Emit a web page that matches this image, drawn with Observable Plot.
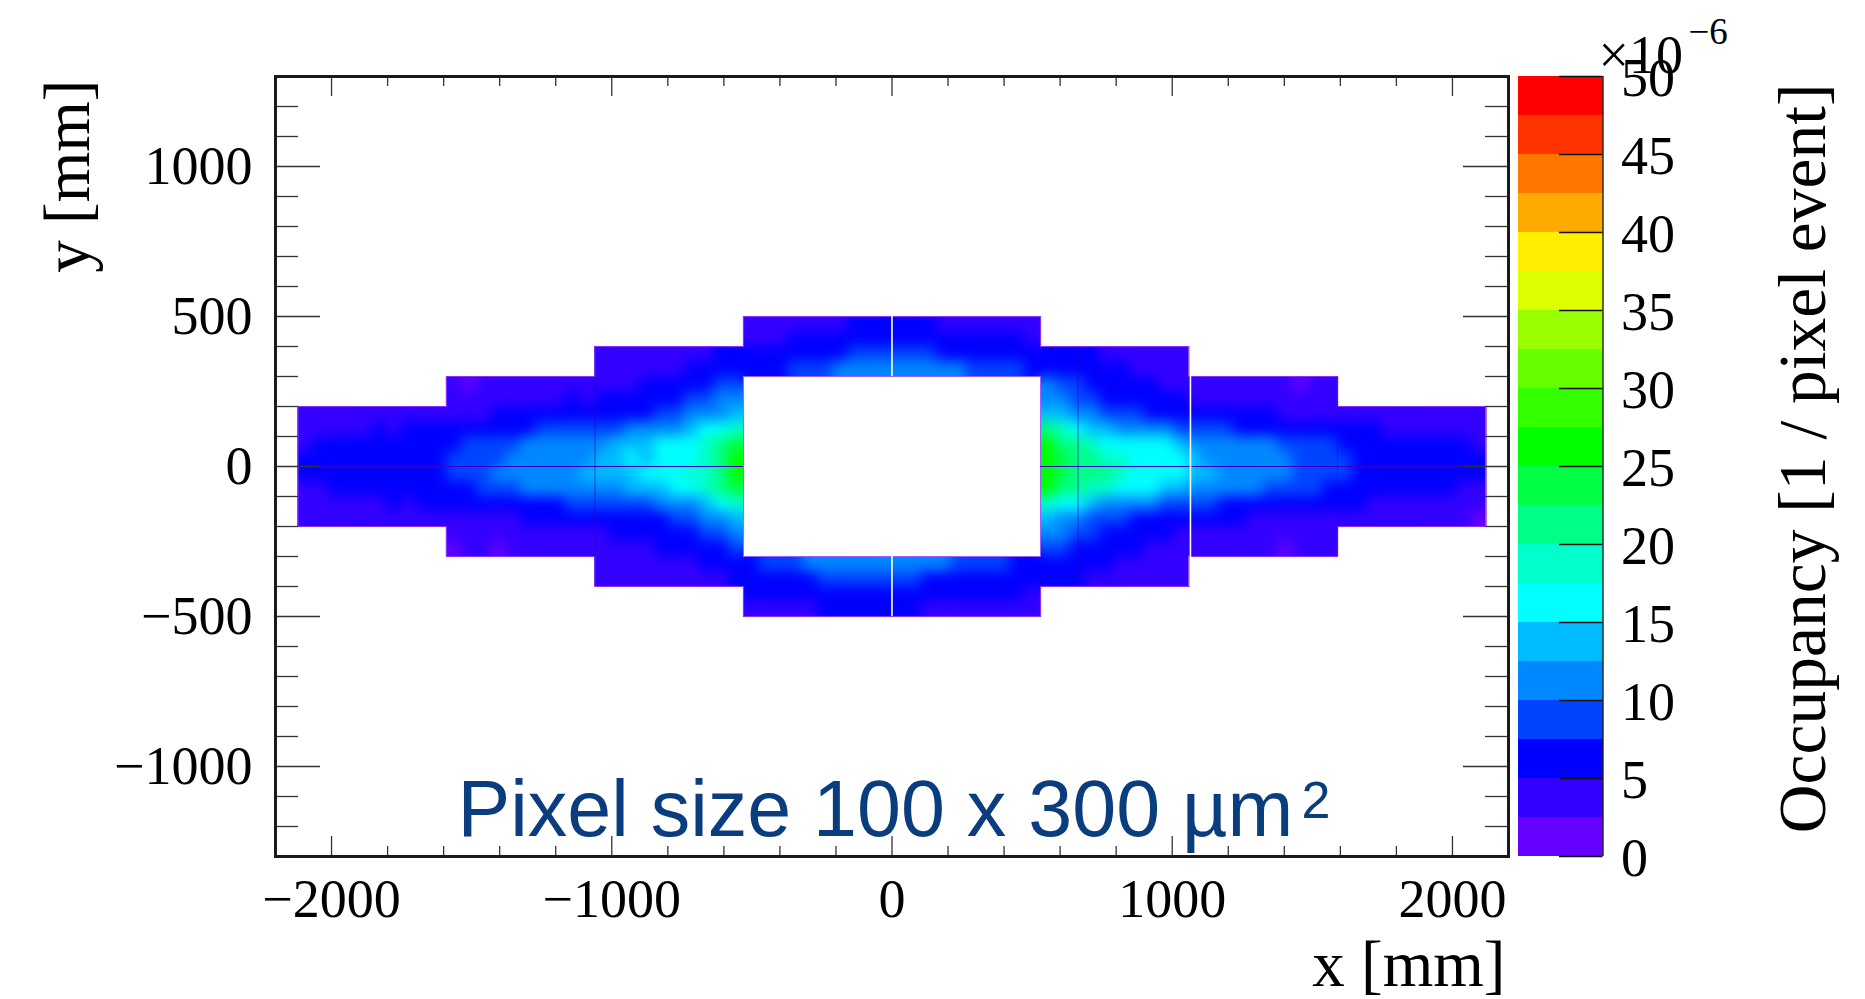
<!DOCTYPE html>
<html>
<head>
<meta charset="utf-8">
<script src="https://cdn.jsdelivr.net/npm/d3@7"></script>
<script src="https://cdn.jsdelivr.net/npm/@observablehq/plot@0.6"></script>
<style>
html,body{margin:0;padding:0;background:#fff;overflow:hidden}
#wrap{position:relative;width:1865px;height:999px}
#wrap svg{position:absolute;left:0;top:0}
</style>
</head>
<body>
<div id="wrap"></div>
<script>
// Colour bands (bottom to top of the colour bar), 2.5e-6 wide each
const bandColors = ["#6600ff","#3300ff","#0000ff","#0044ff","#0088ff","#00bbff","#00ffff","#00ffcc","#00ff88","#00ff44",
                    "#00ff00","#33ff00","#66ff00","#99ff00","#ddff00","#ffee00","#ffaa00","#ff7700","#ff3300","#ff0000"];
const bandEdges = [2.5,5,7.5,10,12.5,15,17.5,20,22.5,25,27.5,30,32.5,35,37.5,40,42.5,45,47.5];
const barLabels = [0,5,10,15,20,25,30,35,40,45,50];

// Axis ticks
const xMajor = [-2000,-1000,0,1000,2000];
const xMinor = [-1800,-1600,-1400,-1200,-800,-600,-400,-200,200,400,600,800,1200,1400,1600,1800];
const yMajor = [-1000,-500,0,500,1000];
const yMinor = [-1200,-1100,-900,-800,-700,-600,-400,-300,-200,-100,100,200,300,400,600,700,800,900,1100,1200];

// Occupancy (×10⁻⁶): one list per 50 mm row, 53 mm columns, left to right.
const rowP450 = [3,3,4,4,4,4,4,5,5,5, 5,5,5,4,4,4,4,4,3,3];
const rowP400 = [4,4,4,5,5,5,6,6,6,7, 7,6,6,6,6,5,5,5,5,4];
const rowP350 = [3,3,3,3,4,4,4,4,5,5, 5,5,6,6,7,7,7,8,8,8, 9,8,8,7,7,7,6,6,6,5, 6,5,5,5,4,4,4,3,3,3];
const rowP300 = [3,3,4,4,4,4,5,5,6,7, 6,7,7,8,8,9,10,11,10,11, 12,11,11,10,10,9,9,8,8,7, 7,7,6,6,5,5,4,4,4,3];
const rowP250 = [3,2,3,3,3,3,3,3,4,3, 4,4,4,5,5,5,6,7,8,9, 10,9,8,7,6,5,5,5,4,4, 3,3,3,3,3,3,3,2,3,3];
const rowP200 = [3,3,3,4,3,4,4,4,5,4, 5,5,5,6,6,7,8,9,10,11, 12,11,9,8,7,6,6,5,5,5, 4,4,4,4,4,3,4,3,3,3];
const rowP150 = [3,3,3,3,4,3,4,4,4,4, 4,4,4,5,5,5,5,6,6,6, 6,6,7,7,8,8,10,11,12,14,
                 14,13,12,10,9,8,8,7,7,6, 6,5,5,5,5,5,4,4,4,4, 4,4,3,4,3,3,3,3,3,3];
const rowP100 = [3,4,4,4,4,5,4,5,5,5, 5,5,6,6,7,7,8,8,8,9, 9,9,10,10,11,12,13,15,17,19,
                 20,18,16,14,13,12,11,11,10,9, 9,8,8,7,7,7,6,6,6,6, 5,5,5,4,4,4,4,4,3,3];
const rowP50  = [4,5,5,5,5,6,6,6,6,6, 7,8,8,9,9,10,11,11,11,12, 12,13,13,14,15,15,17,19,22,24,
                 25,22,20,18,17,16,16,15,15,13, 12,12,11,11,10,10,9,9,8,8, 7,7,6,6,6,5,5,5,5,4];
const rowP0   = [5,5,6,5,6,6,7,6,7,7, 8,8,9,9,10,11,10,11,12,12, 13,14,15,14,15,16,17,18,21,25,
                 26,24,20,20,19,18,17,16,16,15, 13,12,12,11,11,10,10,9,9,8, 8,7,7,7,6,6,6,6,5,5];
const rowM50  = [5,6,5,6,6,7,6,7,7,7, 8,9,9,10,10,10,11,11,12,13, 13,14,14,15,16,16,18,19,22,25,
                 27,24,21,20,20,19,17,17,16,15, 14,13,12,12,11,11,10,9,9,8, 8,7,7,6,7,6,6,5,5,5];
const rowM100 = [4,4,5,5,5,5,6,5,6,6, 6,7,8,8,9,10,10,11,11,11, 11,12,13,14,14,15,16,18,21,24,
                 25,22,20,18,18,17,16,16,14,13, 12,12,11,10,10,9,9,8,8,7, 7,6,6,6,5,5,5,5,4,4];
const rowM150 = [3,4,4,4,4,4,5,4,5,5, 5,5,5,6,6,7,7,7,8,8, 8,8,9,9,10,11,12,14,16,18,
                 19,17,15,13,12,11,10,10,9,8, 8,8,7,7,6,6,6,5,5,5, 5,5,4,4,4,4,4,3,3,3];
const rowM200 = [3,3,3,3,3,3,4,3,4,4, 4,4,4,4,4,5,5,5,5,6, 6,6,6,7,7,8,9,10,11,13,
                 14,12,11,9,8,8,7,7,6,6, 5,5,5,5,4,4,4,4,4,3, 3,3,3,3,3,3,3,3,3,2];
const rowM250 = [3,3,3,3,4,3,4,4,4,4, 4,5,5,5,6,6,7,8,9,10, 11,10,9,8,6,6,6,5,5,4, 4,4,4,3,3,4,3,3,3,3];
const rowM300 = [2,3,3,2,3,3,3,3,3,3, 4,4,4,4,5,5,5,6,7,8, 9,8,7,6,6,5,5,4,4,4, 3,3,3,3,3,3,2,3,3,3];
const rowM350 = [3,3,3,4,4,4,4,5,5,7, 7,8,8,9,10,10,11,11,11,10, 11,10,10,10,9,9,8,8,7,7, 6,6,6,5,5,4,4,4,4,3];
const rowM400 = [3,3,3,3,3,4,4,4,4,5, 6,6,6,7,7,8,8,8,8,8, 8,8,7,7,7,7,6,6,6,6, 5,5,5,4,4,4,3,3,3,3];
const rowM450 = [5,5,5,5,6,6,6,6,7,6, 6,6,6,6,5,5,5,5,5,4];
const rowM500 = [4,4,4,4,4,5,5,5,5,5, 5,5,4,4,4,4,4,4,3,3];

// Detector outline: lower edge of each row and half-width of the row
const rowLows   = [450,400,350,300,250,200,150,100,50,0,-50,-100,-150,-200,-250,-300,-350,-400,-450,-500];
const rowWidths = [530,530,1060,1060,1590,1590,2120,2120,2120,2120,2120,2120,2120,2120,1590,1590,1060,1060,530,530];
const rowValues = [rowP450,rowP400,rowP350,rowP300,rowP250,rowP200,rowP150,rowP100,rowP50,rowP0,
                   rowM50,rowM100,rowM150,rowM200,rowM250,rowM300,rowM350,rowM400,rowM450,rowM500];
const colWidth = 53, rowHeight = 50, holeX = 530, holeY = 300;

// Outer edge of the detector and the central opening
const outlineX = [-2120,-1590,-1590,-1060,-1060,-530,-530,530,530,1060,1060,1590,1590,2120,2120,1590,1590,1060,1060,530,530,-530,-530,-1060,-1060,-1590,-1590,-2120,-2120];
const outlineY = [-200,-200,-300,-300,-400,-400,-500,-500,-400,-400,-300,-300,-200,-200,200,200,300,300,400,400,500,500,400,400,300,300,200,200,-200];
const openingX = [-530,530,530,-530,-530];
const openingY = [-300,-300,300,300,-300];

const cells = [];
rowLows.forEach((low, r) => {
  const inHole = low >= -holeY && low < holeY;
  let i = 0;
  for (let x = -rowWidths[r]; x < rowWidths[r]; x += colWidth) {
    if (inHole && x >= -holeX && x < holeX) continue;
    cells.push({x1: x, x2: x + colWidth, y1: low, y2: low + rowHeight, v: rowValues[r][i++]});
  }
});
const outerEdge = outlineX.map((x,i)=>({x, y: outlineY[i]}));
const openEdge = openingX.map((x,i)=>({x, y: openingY[i]}));
// Dead strips visible in the map
const gapsWhite = [{x:0,y1:300,y2:500},{x:0,y1:-500,y2:-300},{x:1065,y1:-400,y2:400}];
const deadRows = [{x1:-2120,x2:-530},{x1:530,x2:2120}];
const deadCols = [{x:664,y1:-400,y2:400},{x:-1060,y1:-400,y2:400},{x:1590,y1:-300,y2:300}];
const bands = bandColors.map((c,i)=>({y1:i*2.5,y2:(i+1)*2.5,v:i*2.5+1}));

const serif = "'Liberation Serif','Times New Roman',serif";
const fmt = d => String(d).replace("-", "\u2212");
const W = 1233, H = 780;
const colorScale = {type:"threshold", domain: bandEdges, range: bandColors};

const main = Plot.plot({
  width:1865, height:999, marginLeft:275, marginRight:357, marginTop:76, marginBottom:143,
  style:{background:"transparent", fontFamily:serif},
  x:{domain:[-2200,2200],axis:null}, y:{domain:[-1300,1300],axis:null}, color: colorScale,
  marks:[
    Plot.rect(cells,{x1:"x1",x2:"x2",y1:"y1",y2:"y2",fill:"v"}),
    Plot.line(outerEdge,{x:"x",y:"y",stroke:"#8a30ff",strokeWidth:1.2}),
    Plot.line(openEdge,{x:"x",y:"y",stroke:"#a060ff",strokeWidth:1}),
    Plot.ruleY(deadRows,{y:()=>0,x1:"x1",x2:"x2",stroke:"#3a00c8",strokeWidth:1.2}),
    Plot.ruleX(deadCols,{x:"x",y1:"y1",y2:"y2",stroke:"#2a00c0",strokeWidth:1,strokeOpacity:0.6}),
    Plot.ruleX(gapsWhite,{x:"x",y1:"y1",y2:"y2",stroke:"#fff",strokeWidth:1.6}),
    Plot.tickY(yMajor,{y:d=>d,insetRight:W-45,stroke:"#333",strokeWidth:1.3}),
    Plot.tickY(yMajor,{y:d=>d,insetLeft:W-45,stroke:"#333",strokeWidth:1.3}),
    Plot.tickY(yMinor,{y:d=>d,insetRight:W-23,stroke:"#333",strokeWidth:1.3}),
    Plot.tickY(yMinor,{y:d=>d,insetLeft:W-23,stroke:"#333",strokeWidth:1.3}),
    Plot.tickX(xMajor,{x:d=>d,insetTop:H-20,stroke:"#333",strokeWidth:1.3}),
    Plot.tickX(xMajor,{x:d=>d,insetBottom:H-20,stroke:"#333",strokeWidth:1.3}),
    Plot.tickX(xMinor,{x:d=>d,insetTop:H-10,stroke:"#333",strokeWidth:1.3}),
    Plot.tickX(xMinor,{x:d=>d,insetBottom:H-10,stroke:"#333",strokeWidth:1.3}),
    Plot.frame({stroke:"#1a1a1a",strokeWidth:3}),
    Plot.axisX({ticks:xMajor,tickSize:0,tickPadding:22,fontSize:54,tickFormat:fmt,label:null,fill:"#000"}),
    Plot.axisY({ticks:yMajor,tickSize:0,tickPadding:23,fontSize:54,tickFormat:fmt,label:null,fill:"#000"}),
    Plot.text(["x [mm]"],{frameAnchor:"bottom-right",textAnchor:"end",lineAnchor:"bottom",dx:-3,dy:129,fontSize:65,fontFamily:serif,fill:"#000"}),
    Plot.text(["y [mm]"],{frameAnchor:"top-left",rotate:-90,textAnchor:"end",lineAnchor:"bottom",dx:-187,dy:3,fontSize:65,fontFamily:serif,fill:"#000"}),
    Plot.text(["Pixel size 100 x 300 \u00b5m"],{frameAnchor:"bottom-left",textAnchor:"start",lineAnchor:"bottom",dx:182,dy:-21,fontSize:79,fontFamily:"'Liberation Sans',Arial,sans-serif",fill:"#0a3d7e"}),
    Plot.text(["2"],{frameAnchor:"bottom-left",textAnchor:"start",lineAnchor:"bottom",dx:1026,dy:-39,fontSize:52,fontFamily:"'Liberation Sans',Arial,sans-serif",fill:"#0a3d7e"})
  ]
});

// Smooth the estimated cells into a continuous map, trimmed to the detector outline
{
  const ns = "http://www.w3.org/2000/svg";
  const xs = main.scale("x"), ys = main.scale("y");
  const defs = document.createElementNS(ns,"defs");
  const ring = (X,Y) => X.map((x,i)=>(i?"L":"M")+xs.apply(x)+","+ys.apply(Y[i])).join("")+"Z";
  defs.innerHTML =
    '<filter id="soft" x="-5%" y="-5%" width="110%" height="110%" color-interpolation-filters="sRGB">'+
    '<feGaussianBlur stdDeviation="6.5"/><feComponentTransfer><feFuncA type="linear" slope="40"/></feComponentTransfer></filter>'+
    '<clipPath id="det"><path clip-rule="evenodd" d="'+ring(outlineX,outlineY)+ring(openingX,openingY)+'"/></clipPath>';
  main.insertBefore(defs, main.firstChild);
  const g = main.querySelector('g[aria-label="rect"]');
  g.setAttribute("filter","url(#soft)");
  g.setAttribute("clip-path","url(#det)");
}

const bar = Plot.plot({
  width:1865, height:999, marginLeft:1518, marginRight:262.5, marginTop:76, marginBottom:143,
  style:{background:"transparent", fontFamily:serif},
  x:{domain:[0,1],axis:null}, y:{domain:[0,50],axis:null}, color: colorScale,
  marks:[
    Plot.rect(bands,{x1:()=>0,x2:()=>1,y1:"y1",y2:"y2",fill:"v",shapeRendering:"crispEdges"}),
    Plot.ruleX([1],{x:d=>d,stroke:"#222",strokeWidth:1.4}),
    Plot.tickY(barLabels,{y:d=>d,insetLeft:41,stroke:"#111",strokeWidth:1.3}),
    Plot.axisY({anchor:"right",ticks:barLabels,tickSize:0,tickPadding:18,fontSize:54,label:null,dy:2,tickFormat:d=>String(d),fill:"#000"}),
    Plot.text(["\u00d710"],{frameAnchor:"top-left",textAnchor:"start",lineAnchor:"bottom",dx:80,dy:-4,fontSize:54,fontFamily:serif,fill:"#000"}),
    Plot.text(["\u22126"],{frameAnchor:"top-left",textAnchor:"start",lineAnchor:"bottom",dx:170,dy:-33,fontSize:37,fontFamily:serif,fill:"#000"}),
    Plot.text(["Occupancy [1 / pixel event]"],{frameAnchor:"top-right",rotate:-90,textAnchor:"end",lineAnchor:"bottom",dx:222,dy:7,fontSize:67.5,fontFamily:serif,fill:"#000"})
  ]
});

const wrap = document.getElementById("wrap");
wrap.appendChild(main);
wrap.appendChild(bar);
</script>
</body>
</html>
